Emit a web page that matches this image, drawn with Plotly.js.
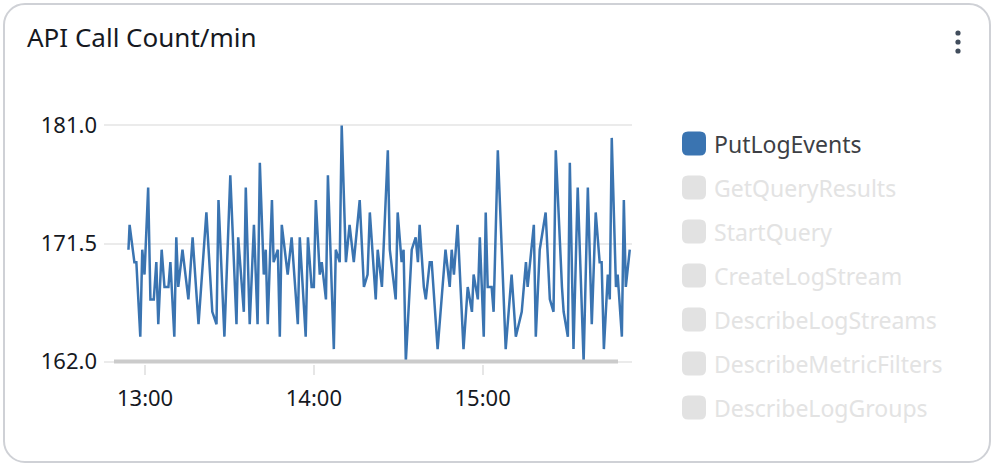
<!DOCTYPE html>
<html>
<head>
<meta charset="utf-8">
<script src="https://cdn.plot.ly/plotly-3.0.1.min.js"></script>
<style>
  html, body { margin: 0; padding: 0; background: #ffffff; }
  #wrap { position: relative; width: 994px; height: 466px; }
  #chart { position: absolute; left: 0; top: 0; width: 994px; height: 466px; }
  #card { position: absolute; left: 3px; top: 3px; width: 988px; height: 460px; box-sizing: border-box;
          border: 2px solid #cfd1d6; border-radius: 22px; pointer-events: none; }
</style>
</head>
<body>
<div id="wrap">
  <div id="chart"></div>
  <div id="card"></div>
</div>
<script>
// ---- data ----
const chartTitle = "API Call Count/min";
const dayStr = "2024-01-01";
const startClock = "12:54:00";
// minutes after start for each drawn vertex of PutLogEvents
const minutesAfterStart = [
  0.1, 0.5, 2.2, 2.9, 4.3, 5.0, 5.8, 7.1, 7.9, 9.1, 10.0, 10.7, 11.9, 12.9, 14.3, 15.0, 16.4, 17.1, 17.8, 19.3,
  21.4, 22.9, 25.0, 27.8, 29.9, 31.4, 32.1, 34.2, 36.3, 38.5, 39.1,
  41.1, 41.8, 43.2, 44.7, 46.0, 46.8, 48.2, 48.9, 49.6, 51.1, 51.7, 53.2, 53.9, 54.6, 56.7, 58.1, 60.3, 61.0,
  63.1, 63.9, 65.2, 66.0, 66.7, 68.1, 68.8, 70.3, 71.0, 73.1, 73.8, 75.2, 75.9, 77.4, 78.7, 80.2, 82.3,
  83.8, 85.1, 85.9, 88.0, 88.7, 90.2, 92.3, 93.0, 95.1, 95.8, 97.2, 97.9, 98.7, 100.8, 102.2, 103.0, 103.6,
  105.1, 105.8, 107.2, 107.9, 110.0, 112.8, 114.3, 115.0, 115.8, 117.1, 119.2, 120.7, 122.2, 122.8, 124.3, 125.0,
  126.4, 127.1, 127.8, 129.2, 129.9, 131.4, 134.2, 136.3, 137.8, 139.9, 141.4, 142.0, 144.2, 144.9, 146.3,
  148.4, 149.9, 151.2, 152.0, 154.2, 154.8, 156.3, 157.0, 158.3, 159.8, 161.9, 163.4, 164.8, 166.2, 167.6,
  168.3, 169.1, 170.5, 171.2, 171.9, 173.4, 174.0, 175.5, 176.2, 176.9, 178.3
];
const putLogEvents = [
  171, 173, 170, 170, 164, 171, 169, 176, 167, 167, 170, 165, 171, 168, 168, 170, 164, 172, 168, 171,
  167, 172, 165, 174, 166, 165, 175, 164, 177, 165, 172,
  166, 176, 165, 173, 165, 178, 169, 171, 165, 175, 170, 171, 164, 173, 169, 172, 165, 172,
  164, 172, 168, 168, 175, 169, 170, 167, 177, 163, 171, 170, 181, 170, 173, 170, 175,
  168, 169, 174, 167, 171, 168, 179, 171, 167, 174, 170, 171, 162, 171, 172, 170, 173,
  168, 167, 170, 170, 163, 171, 168, 171, 169, 173, 163, 168, 166, 169, 167, 172,
  164, 174, 168, 168, 166, 179, 163, 169, 164, 166, 170, 168, 173, 164, 171,
  174, 167, 166, 179, 168, 166, 164, 178, 163, 176, 162, 176, 165, 174, 170,
  170, 163, 169, 167, 180, 168, 169, 164, 175, 168, 171
];
const seriesNames = ["PutLogEvents", "GetQueryResults", "StartQuery", "CreateLogStream",
                     "DescribeLogStreams", "DescribeMetricFilters", "DescribeLogGroups"];
const seriesShown = [true, false, false, false, false, false, false];
const yTickVals = [162, 171.5, 181];
const yTickText = ["162.0", "171.5", "181.0"];
const xTickClock = ["13:00", "14:00", "15:00"];
const xRangeClock = ["12:45:24", "15:53:06"];
const yRange = [161.8, 181.2];

// ---- helpers ----
function clockToSec(c) { const p = c.split(":").map(Number); return p[0]*3600 + p[1]*60 + (p[2]||0); }
function pad(n) { return String(n).padStart(2, "0"); }
function secToTs(s) {
  s = Math.round(s);
  return dayStr + " " + pad(Math.floor(s/3600)) + ":" + pad(Math.floor((s%3600)/60)) + ":" + pad(s%60);
}
const startSec = clockToSec(startClock);
const xTimes = minutesAfterStart.map(m => secToTs(startSec + m*60));

const W = 994, H = 466;
const M = { l: 104, r: 362, t: 123, b: 102 };
const pw = W - M.l - M.r, ph = H - M.t - M.b;
const px2paperX = px => (px - M.l) / pw;
const px2paperY = py => (H - M.b - py) / ph;

const BLUE = "#3a74b1";
const FONT = "Noto Sans, Open Sans, sans-serif";

const traces = [{
  type: "scatter", mode: "lines", name: seriesNames[0],
  x: xTimes, y: putLogEvents,
  line: { color: BLUE, width: 2.5, shape: "linear" },
  hoverinfo: "x+y"
}];

// manual legend
const shapes = [];
const annotations = [];
const legendTop = 143.5, legendStep = 44, swatchX = 694, textX = 712;
function roundRect(h, r) {
  return `M ${-h+r} ${-h} L ${h-r} ${-h} Q ${h} ${-h} ${h} ${-h+r} L ${h} ${h-r} Q ${h} ${h} ${h-r} ${h} ` +
         `L ${-h+r} ${h} Q ${-h} ${h} ${-h} ${h-r} L ${-h} ${-h+r} Q ${-h} ${-h} ${-h+r} ${-h} Z`;
}
seriesNames.forEach((nm, i) => {
  const cy = legendTop + i * legendStep;
  shapes.push({
    type: "path", xref: "paper", yref: "paper", xsizemode: "pixel", ysizemode: "pixel",
    xanchor: px2paperX(swatchX), yanchor: px2paperY(cy),
    path: roundRect(12, 6),
    fillcolor: seriesShown[i] ? BLUE : "#e2e2e2", line: { width: 0 }, layer: "above"
  });
  annotations.push({
    xref: "paper", yref: "paper", x: px2paperX(textX), y: px2paperY(cy),
    xanchor: "left", yanchor: "middle", showarrow: false, text: nm,
    font: { family: FONT, size: 23, color: seriesShown[i] ? "#3d3f45" : "#e3e3e3" }
  });
});

// bottom scrubber bar
shapes.push({
  type: "line", xref: "paper", yref: "y", x0: px2paperX(114), x1: px2paperX(618), y0: yTickVals[0], y1: yTickVals[0],
  line: { color: "#cbcbcb", width: 4 }, layer: "above"
});
// menu dots
[33, 42, 51].forEach(dy => {
  shapes.push({
    type: "circle", xref: "paper", yref: "paper", xsizemode: "pixel", ysizemode: "pixel",
    xanchor: px2paperX(958), yanchor: px2paperY(dy), x0: -2.6, x1: 2.6, y0: -2.6, y1: 2.6,
    fillcolor: "#414d5c", line: { width: 0 }
  });
});

const layout = {
  width: W, height: H,
  margin: M,
  paper_bgcolor: "#ffffff", plot_bgcolor: "#ffffff",
  showlegend: false,
  font: { family: FONT, color: "#16191f" },
  title: {
    text: chartTitle, xref: "container", yref: "container",
    x: 27 / W, xanchor: "left", y: 1 - 38 / H, yanchor: "middle",
    font: { family: FONT, size: 26, color: "#16191f" }
  },
  xaxis: {
    type: "date",
    range: xRangeClock.map(c => dayStr + " " + c),
    tickvals: xTickClock.map(c => dayStr + " " + c + ":00"),
    ticktext: xTickClock,
    showgrid: false, zeroline: false, showline: false,
    ticks: "outside", ticklen: 10, tickwidth: 2, tickcolor: "#e6e6e6",
    ticklabelstandoff: 5,
    tickfont: { family: FONT, size: 22, color: "#16191f" },
    fixedrange: true
  },
  yaxis: {
    range: yRange,
    tickvals: yTickVals, ticktext: yTickText,
    showgrid: true, gridcolor: "#ebebeb", gridwidth: 2,
    zeroline: false, showline: false, ticks: "",
    ticklabelstandoff: 6,
    tickfont: { family: FONT, size: 22, color: "#16191f" },
    fixedrange: true
  },
  shapes: shapes,
  annotations: annotations
};

Plotly.newPlot("chart", traces, layout, { displayModeBar: false, staticPlot: true });
</script>
</body>
</html>
